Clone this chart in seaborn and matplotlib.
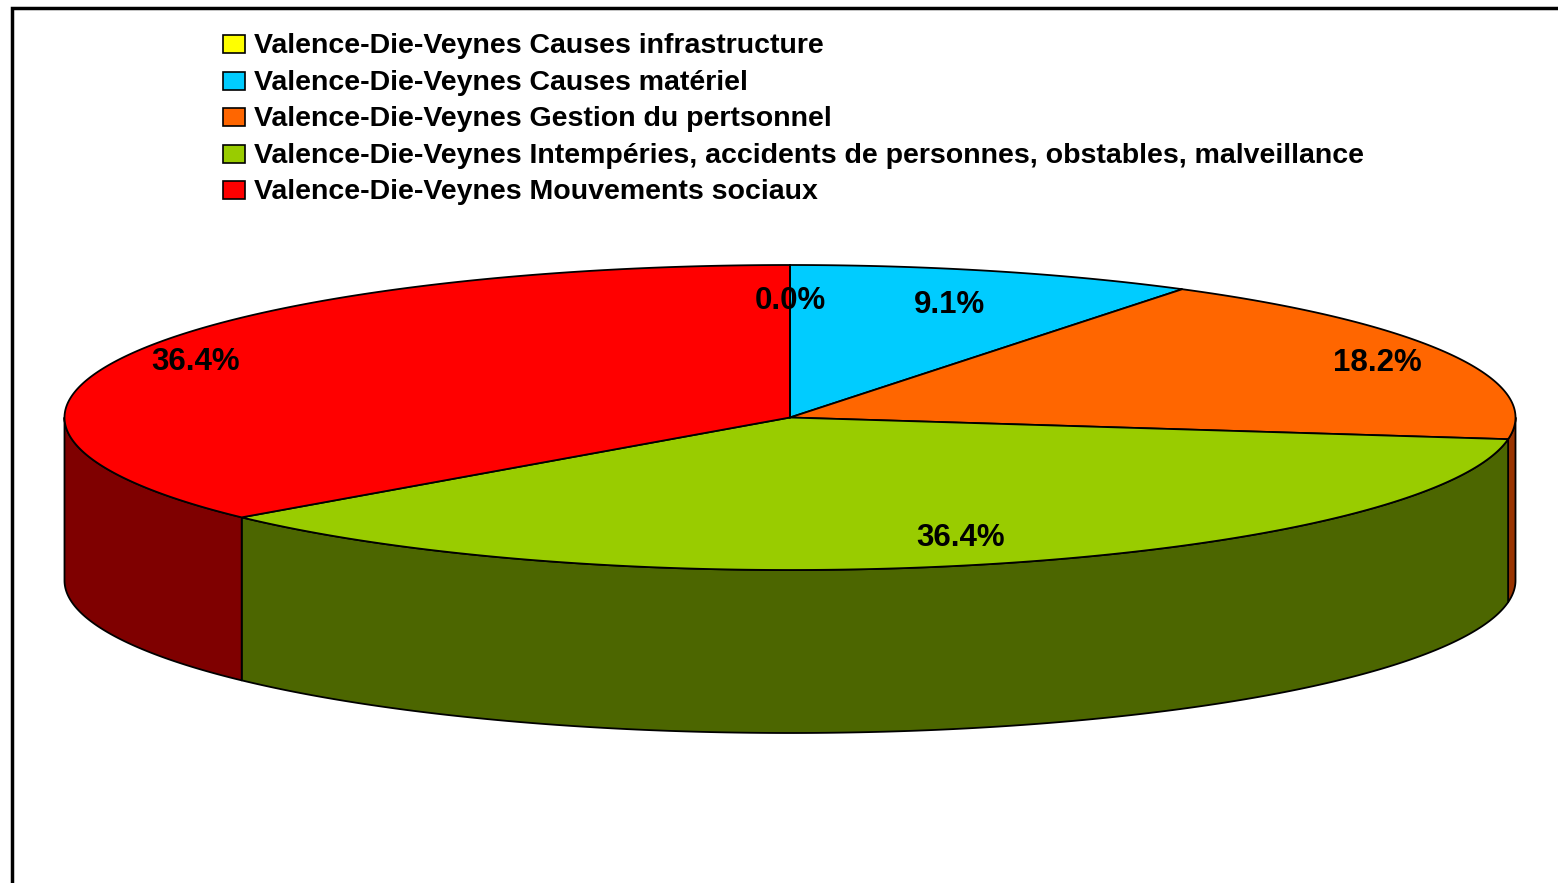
import numpy as np
import matplotlib
matplotlib.use("Agg")
import matplotlib.pyplot as plt
import seaborn as sns
from matplotlib.patches import Polygon, Rectangle

# data
categories = ["Valence-Die-Veynes Causes infrastructure",
              "Valence-Die-Veynes Causes matériel",
              "Valence-Die-Veynes Gestion du pertsonnel",
              "Valence-Die-Veynes Intempéries, accidents de personnes, obstables, malveillance",
              "Valence-Die-Veynes Mouvements sociaux"]
values = [0, 1, 2, 4, 4]
top_colors = ["#FFFF00", "#00CCFF", "#FF6600", "#99CC00", "#FF0000"]
side_colors = ["#7F7F00", "#006680", "#993300", "#4C6600", "#7F0000"]

sns.set_style("white")
plt.rcParams['font.family'] = ['Liberation Sans', 'DejaVu Sans']

fig = plt.figure(figsize=(15.58, 8.83), dpi=100)
ax = fig.add_axes([0, 0, 1, 1])
ax.set_xlim(0, 1558)
ax.set_ylim(883, 0)
ax.axis('off')

# pie geometry (pixel space)
cx, cy = 790, 417.5
rx, ry = 725.5, 152.5
depth = 163

def pt(theta, dy=0.0, frac=1.0):
    # theta: clockwise angle from 12 o'clock, radians
    return cx + frac * rx * np.sin(theta), cy - frac * ry * np.cos(theta) + dy

vals = np.array(values, dtype=float)
fracs = vals / vals.sum()
bounds = np.concatenate([[0], np.cumsum(fracs)]) * 2 * np.pi

# side walls (front half: theta in [pi/2, 3pi/2])
for i in range(len(vals)):
    a0, a1 = bounds[i], bounds[i + 1]
    s0, s1 = max(a0, np.pi / 2), min(a1, 3 * np.pi / 2)
    if s1 <= s0:
        continue
    t = np.linspace(s0, s1, 200)
    xs, ys = pt(t)
    xb, yb = pt(t[::-1], dy=depth)
    poly = np.column_stack([np.concatenate([xs, xb]), np.concatenate([ys, yb])])
    ax.add_patch(Polygon(poly, closed=True, facecolor=side_colors[i],
                         edgecolor='black', lw=1.3, joinstyle='round', zorder=2))

# top faces
for i in range(len(vals)):
    a0, a1 = bounds[i], bounds[i + 1]
    if a1 - a0 <= 0:
        continue
    t = np.linspace(a0, a1, 300)
    xs, ys = pt(t)
    poly = np.column_stack([np.concatenate([[cx], xs]), np.concatenate([[cy], ys])])
    ax.add_patch(Polygon(poly, closed=True, facecolor=top_colors[i],
                         edgecolor='black', lw=1.3, joinstyle='round', zorder=3))

# zero slice boundary line
ax.plot([cx, cx], [cy, cy - ry], color='black', lw=1.3, zorder=4)

# percentage labels
label_frac = [0.78, 0.78, 0.89, 0.81, 0.90]
for i in range(len(vals)):
    mid = (bounds[i] + bounds[i + 1]) / 2
    lx, ly = pt(mid, frac=label_frac[i])
    ax.text(lx + (5 if i == 3 else 0), ly + 2, f"{fracs[i]*100:.1f}%", ha='center', va='center',
            fontsize=22.5, fontweight='bold', color='black', zorder=5)

# legend
for i, name in enumerate(categories):
    y = 44 + i * 36.6
    ax.add_patch(Rectangle((223, y - 9), 22, 18, facecolor=top_colors[i],
                           edgecolor='black', lw=1.2, zorder=5))
    ax.text(254, y + 2, name, ha='left', va='center', fontsize=20.5,
            fontweight='bold', color='black', zorder=5)

# chart frame
ax.plot([12, 12, 1570], [900, 8, 8], color='black', lw=2.5, zorder=6,
        solid_joinstyle='miter')

fig.savefig("out.png", dpi=100)
